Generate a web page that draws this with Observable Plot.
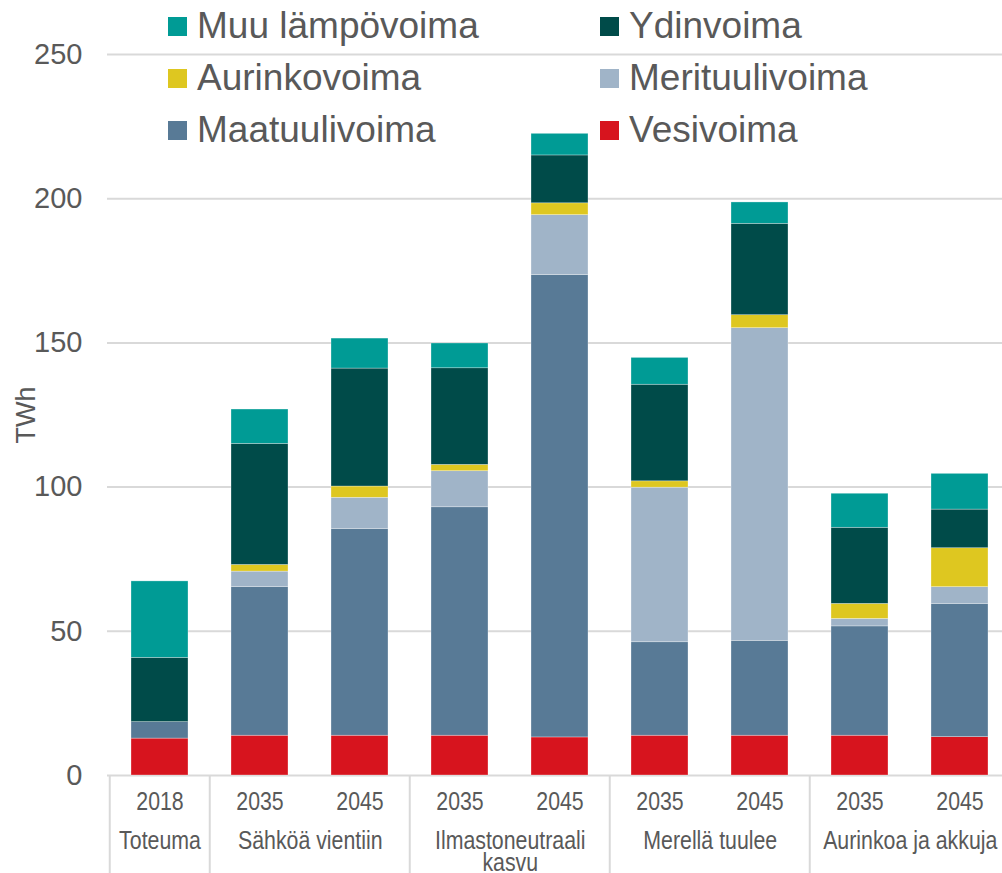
<!DOCTYPE html>
<html><head><meta charset="utf-8">
<script src="https://cdn.jsdelivr.net/npm/d3@7"></script>
<script src="https://cdn.jsdelivr.net/npm/@observablehq/plot@0.6"></script>
<style>
body{margin:0;background:#fff;}
#wrap{position:relative;width:1002px;height:873px;overflow:hidden;}
#legend{position:absolute;left:0;top:0;font-family:"Liberation Sans",Arial,sans-serif;font-size:37px;color:#595959;}
.item{position:absolute;display:flex;align-items:center;height:52px;white-space:nowrap;}
.sw{width:19px;height:19px;margin-right:10px;}
</style></head><body><div id="wrap"><div id="chart"></div><div id="legend"></div></div>
<script>
// ---- data ----
const years = ["2018","2035","2045","2035","2045","2035","2045","2035","2045"];
const groupNames = ["Toteuma","Sähköä vientiin","Ilmastoneutraali\nkasvu","Merellä tuulee","Aurinkoa ja akkuja"];
const barGroup = [0,1,1,2,2,3,3,4,4];
const seriesNames = ["Vesivoima","Maatuulivoima","Merituulivoima","Aurinkovoima","Ydinvoima","Muu lämpövoima"];
const seriesColors = ["#d7141e","#587a96","#a0b4c8","#dec720","#004b49","#009b95"];
const vesivoima     = [12.8, 13.8, 13.8, 13.8, 13.2, 13.8, 13.8, 13.8, 13.3];
const maatuulivoima = [5.7, 51.5, 71.7, 79.2, 160.3, 32.4, 32.9, 37.9, 46.2];
const merituulivoima= [0, 5.4, 10.8, 12.5, 20.8, 53.6, 108.4, 2.6, 5.8];
const aurinkovoima  = [0, 2.3, 3.9, 2.2, 4.1, 2.2, 4.5, 5.2, 13.5];
const ydinvoima     = [22.3, 42.0, 40.9, 33.5, 16.6, 33.5, 31.7, 26.4, 13.4];
const muuLampovoima = [26.5, 11.9, 10.4, 8.6, 7.5, 9.3, 7.4, 11.8, 12.4];
const yTicks = [0, 50, 100, 150, 200, 250];
const legendOrder = ["Muu lämpövoima","Ydinvoima","Aurinkovoima","Merituulivoima","Maatuulivoima","Vesivoima"];

// ---- build table ----
const seriesValues = [vesivoima, maatuulivoima, merituulivoima, aurinkovoima, ydinvoima, muuLampovoima];
const barKeys = years.map((y, i) => `b${i}`);
const data = [];
barKeys.forEach((k, i) => seriesNames.forEach((s, j) => data.push({bar: k, series: s, value: seriesValues[j][i]})));
const groups = groupNames.map((name, g) => {
  const idx = barGroup.map((gg, i) => gg === g ? i : -1).filter(i => i >= 0);
  return {name, first: barKeys[idx[0]], n: idx.length};
});

const W = 1002, H = 873, mL = 107, mT = 54, mB = 98;
const xEnd = 1011.5;
const step = (xEnd - mL) / barKeys.length;
const catFont = "'Liberation Sans',Arial,sans-serif";
const catSize = 26;

const chart = Plot.plot({
  width: W, height: H,
  marginLeft: mL, marginRight: 0, marginTop: mT, marginBottom: mB,
  style: {fontFamily: "'Liberation Sans',Arial,sans-serif", fontSize: "29px", color: "#595959", background: "#fff", overflow: "hidden"},
  x: {type: "band", domain: barKeys, range: [mL, xEnd], paddingInner: 0.43, paddingOuter: 0.215, axis: null},
  y: {domain: [0, 250], axis: null},
  color: {domain: seriesNames, range: seriesColors},
  marks: [
    Plot.ruleY(yTicks, {stroke: "#d9d9d9", strokeWidth: 2}),
    Plot.barY(data, {x: "bar", y: "value", fill: "series", order: seriesNames, stroke: "#ffffff", strokeWidth: 0.6, strokeOpacity: 0.5}),
    Plot.axisY({ticks: yTicks, tickSize: 0, tickPadding: 25, label: null, fontSize: 29}),
    Plot.text(["TWh"], {frameAnchor: "left", dx: -81, rotate: -90, textAnchor: "middle", text: d => d, fontSize: 27, fill: "#595959"}),
    Plot.ruleX(groups, {x: "first", y1: 0, y2: 0, dx: -step / 2, insetBottom: -mB, stroke: "#d9d9d9", strokeWidth: 2}),
    Plot.text(barKeys, {x: d => d, y: 0, dy: 26, text: (d, i) => years[i], fontSize: catSize, fontFamily: catFont, fill: "#595959", className: "cat"}),
    Plot.text(groups.filter(g => g.n === 1), {x: "first", y: 0, dy: 58, text: "name", lineAnchor: "top", fontSize: catSize, lineHeight: 0.85, fontFamily: catFont, fill: "#595959", className: "cat"}),
    Plot.text(groups.filter(g => g.n === 2), {x: "first", y: 0, dy: 58, dx: step / 2, text: "name", lineAnchor: "top", fontSize: catSize, lineHeight: 0.85, fontFamily: catFont, fill: "#595959", className: "cat"})
  ]
});
document.getElementById("chart").appendChild(chart);

// condense category labels (narrow face look)
chart.querySelectorAll(".cat text, .cat tspan").forEach(el => {
  if (el.tagName === "text" && el.querySelector("tspan")) return;
  const w = el.getComputedTextLength();
  if (w > 0) {
    el.setAttribute("textLength", (w * 0.82).toFixed(1));
    el.setAttribute("lengthAdjust", "spacingAndGlyphs");
  }
});

// ---- legend ----
const legend = document.getElementById("legend");
const colX = [[168, 197], [600, 628]];
const rowY = [0, 52, 104];
legendOrder.forEach((name, i) => {
  const c = i % 2, r = Math.floor(i / 2);
  const it = document.createElement("div");
  it.className = "item";
  it.style.left = colX[c][0] + "px";
  it.style.top = rowY[r] + "px";
  const sw = document.createElement("div");
  sw.className = "sw";
  sw.style.background = seriesColors[seriesNames.indexOf(name)];
  const tx = document.createElement("span");
  tx.textContent = name;
  it.appendChild(sw); it.appendChild(tx);
  legend.appendChild(it);
});
</script></body></html>
